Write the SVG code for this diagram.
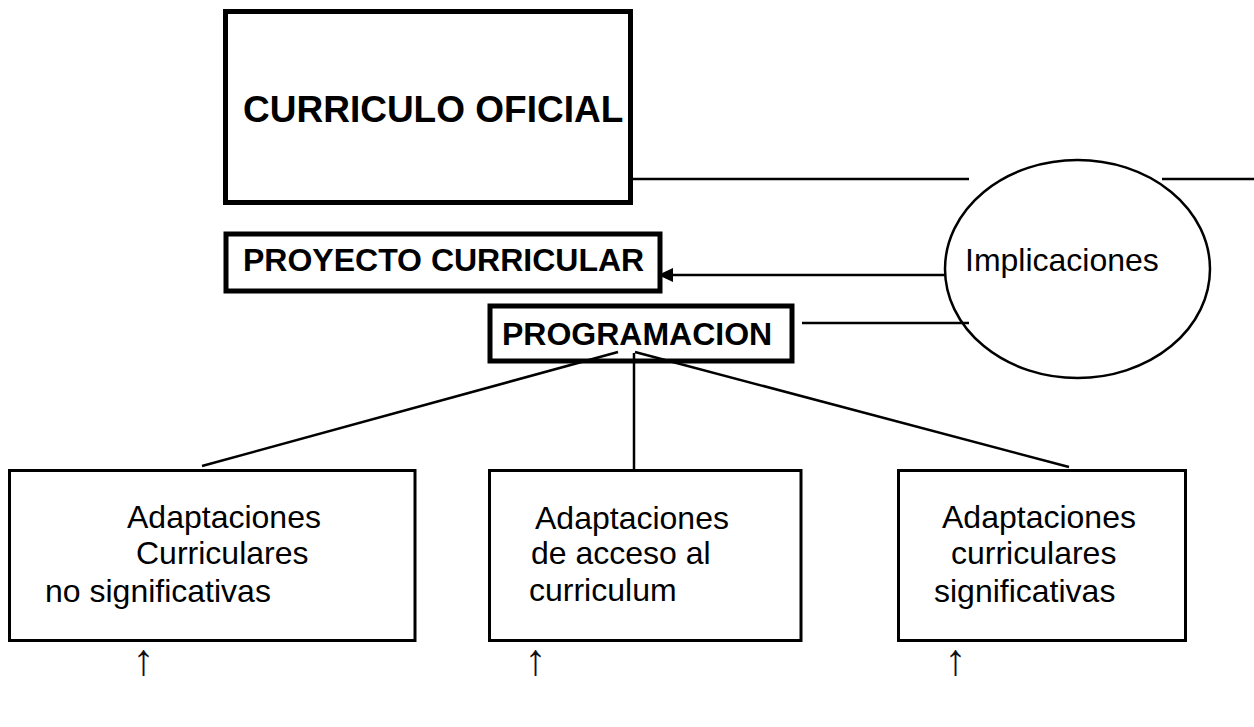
<svg xmlns="http://www.w3.org/2000/svg" width="1254" height="727" viewBox="0 0 1254 727">
<style>
.thick{fill:#fff;stroke:#000;stroke-width:5}
.thin{fill:#fff;stroke:#000;stroke-width:3}
.ln{fill:none;stroke:#000;stroke-width:2.5}
.b{font-family:"Liberation Sans",Arial,sans-serif;font-weight:bold;fill:#000}
.t{font-family:"Liberation Sans",Arial,sans-serif;font-size:32px;fill:#000}
.ar{font-family:"Liberation Serif","Times New Roman",serif;font-size:44px;fill:#111;text-anchor:middle}
</style>
<defs>
<marker id="ah" markerWidth="16" markerHeight="14" refX="15" refY="7" orient="auto" markerUnits="userSpaceOnUse">
<path d="M0,0 L15,7 L0,14 Z" fill="#000"/>
</marker>
</defs>
<rect width="1254" height="727" fill="#fff"/>
<g id="curriculo-oficial">
<rect class="thick" x="225.5" y="11.5" width="405" height="191"/>
<text class="b" x="243" y="122" font-size="37">CURRICULO OFICIAL</text>
</g>
<g id="implicaciones">
<ellipse cx="1077.5" cy="269" rx="132.5" ry="109" fill="none" stroke="#000" stroke-width="2.5"/>
<text class="t" x="965" y="271">Implicaciones</text>
</g>
<g id="proyecto-curricular">
<rect class="thick" x="226" y="234" width="434" height="57"/>
<text class="b" x="243" y="271" font-size="32">PROYECTO CURRICULAR</text>
</g>
<g id="programacion">
<rect class="thick" x="490" y="306" width="302" height="55"/>
<text class="b" x="502" y="345" font-size="32">PROGRAMACION</text>
</g>
<g id="no-significativas">
<rect class="thin" x="9.5" y="470.5" width="405.5" height="170"/>
<text class="t" x="127" y="528">Adaptaciones</text>
<text class="t" x="136" y="564">Curriculares</text>
<text class="t" x="45" y="602">no significativas</text>
<text class="ar" x="143.5" y="675">↑</text>
</g>
<g id="acceso">
<rect class="thin" x="489.5" y="470.5" width="311.5" height="170"/>
<text class="t" x="535" y="529">Adaptaciones</text>
<text class="t" x="531" y="564">de acceso al</text>
<text class="t" x="529" y="601">curriculum</text>
<text class="ar" x="535.5" y="675">↑</text>
</g>
<g id="significativas">
<rect class="thin" x="898.5" y="470.5" width="287" height="170"/>
<text class="t" x="942" y="528">Adaptaciones</text>
<text class="t" x="951" y="564">curriculares</text>
<text class="t" x="934" y="602">significativas</text>
<text class="ar" x="955.5" y="675">↑</text>
</g>
<g id="connectors">
<line class="ln" x1="633" y1="179" x2="969" y2="179"/>
<line class="ln" x1="1162" y1="179" x2="1254" y2="179"/>
<line class="ln" x1="802" y1="323" x2="969" y2="323"/>
<line class="ln" x1="945" y1="275" x2="658" y2="275" marker-end="url(#ah)"/>
<line class="ln" x1="618" y1="352" x2="202" y2="466"/>
<line class="ln" x1="634" y1="353" x2="634" y2="471"/>
<line class="ln" x1="635" y1="352" x2="1069" y2="467"/>
</g>
</svg>
